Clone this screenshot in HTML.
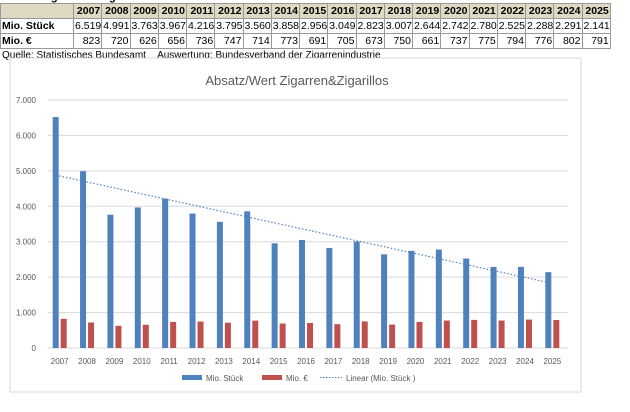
<!DOCTYPE html>
<html><head><meta charset="utf-8"><style>
body{margin:0;width:630px;height:412px;background:#fff;position:relative;overflow:hidden;font-family:"Liberation Sans",sans-serif}
table{position:absolute;left:0;top:3px;border-collapse:collapse;font-size:10.5px;table-layout:fixed;width:610px;white-space:nowrap}
td{border:1px solid #999;height:14px;padding:0 1px;text-align:right;overflow:hidden;line-height:14px}
tr.h td{background:#ddd9c3;font-weight:bold}
td.l{text-align:left;font-weight:bold;background:#fff}
#title0{position:absolute;left:2px;top:-9px;font-size:11px;font-weight:bold}
#src{position:absolute;left:2px;top:50px;font-size:10px;line-height:11px}
</style></head><body>
<div id="title0">Absatz Zigarren &amp; Zigarillos in Deutschland</div>
<table><colgroup id="cg"></colgroup><tbody id="tb"></tbody></table>
<div id="src">Quelle: Statistisches Bundesamt &nbsp;&nbsp;&nbsp;Auswertung: Bundesverband der Zigarrenindustrie</div>
<svg id="chart" width="630" height="412" style="position:absolute;left:0;top:0"></svg>
<script>
const years=["2007","2008","2009","2010","2011","2012","2013","2014","2015","2016","2017","2018","2019","2020","2021","2022","2023","2024","2025"];
const stueck=[6519,4991,3763,3967,4216,3795,3560,3858,2956,3049,2823,3007,2644,2742,2780,2525,2288,2291,2141];
const euro=[823,720,626,656,736,747,714,773,691,705,673,750,661,737,775,794,776,802,791];
const yTicks=[0,1000,2000,3000,4000,5000,6000,7000];
const fmt=v=>v===0?"0":(v/1000).toFixed(3);
document.getElementById('cg').innerHTML='<col style="width:73px">'+years.map(()=>'<col style="width:28.26px">').join('');
const tb=document.getElementById('tb');
let h='<tr class="h"><td class="l"></td>'+years.map(y=>'<td>'+y+'</td>').join('')+'</tr>';
h+='<tr><td class="l">Mio. Stück</td>'+stueck.map(v=>'<td>'+fmt(v)+'</td>').join('')+'</tr>';
h+='<tr><td class="l">Mio. €</td>'+euro.map(v=>'<td>'+v+'</td>').join('')+'</tr>';
tb.innerHTML=h;
const svg=document.getElementById('chart');const NS="http://www.w3.org/2000/svg";
function el(t,a,txt){const e=document.createElementNS(NS,t);for(const k in a)e.setAttribute(k,a[k]);if(txt!==undefined)e.textContent=txt;svg.appendChild(e);return e;}
const L=48,R=568,T=100,B=348,yMax=7000;
const y=v=>B-(B-T)*v/yMax;const cw=(R-L)/years.length;const xc=i=>L+cw*(i+0.5);
let e=el('rect',{x:10,y:58,width:571,height:334,fill:'#fff',stroke:'#d9d9d9'});

e=el('text',{x:297,y:85,'text-anchor':'middle','font-size':13,fill:'#595959'},'Absatz/Wert Zigarren&Zigarillos');

yTicks.forEach(t=>{
 const g=el('line',{x1:L,x2:R,y1:y(t),y2:y(t),stroke:'#d9d9d9'});
 
 const lb=el('text',{x:L-12,y:y(t)+3,'text-anchor':'end','font-size':8,fill:'#595959'},fmt(t));
 
});
years.forEach((yr,i)=>{
 const b=el('rect',{x:xc(i)-9,y:y(stueck[i]),width:6,height:B-y(stueck[i]),fill:'#4f81bd'});
 
 const r=el('rect',{x:xc(i)-1,y:y(euro[i]),width:6,height:B-y(euro[i]),fill:'#c0504d'});
 
 const t=el('text',{x:xc(i)-2,y:364,'text-anchor':'middle','font-size':8,fill:'#595959'},yr);
 
});
const n=stueck.length;let sx=0,sy=0,sxy=0,sxx=0;
stueck.forEach((v,i)=>{sx+=i;sy+=v;sxy+=i*v;sxx+=i*i;});
const m=(n*sxy-sx*sy)/(n*sxx-sx*sx),c=(sy-m*sx)/n;
e=el('line',{x1:xc(0)-6,y1:y(c),x2:xc(n-1)-6,y2:y(c+m*(n-1)),stroke:'#4f81bd','stroke-width':1.2,'stroke-dasharray':'1.5 2'});

const lg=[[182,'#4f81bd','Mio. Stück'],[262,'#c0504d','Mio. €']];
lg.forEach(([x,col,txt])=>{
 const r=el('rect',{x:x,y:375,width:20,height:5,fill:col});
 const t=el('text',{x:x+24,y:381,'font-size':8,fill:'#595959'},txt);
});
e=el('line',{x1:320,x2:342,y1:377.5,y2:377.5,stroke:'#4f81bd','stroke-dasharray':'1.5 1.5'});

e=el('text',{x:346,y:381,'font-size':8,fill:'#595959'},'Linear (Mio. Stück   )');

</script>
</body></html>
